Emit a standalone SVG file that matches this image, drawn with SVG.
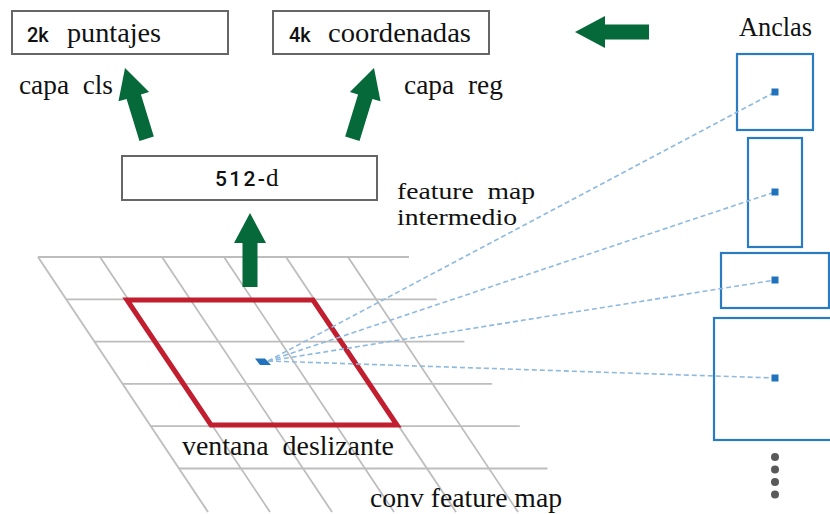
<svg xmlns="http://www.w3.org/2000/svg" xmlns:xlink="http://www.w3.org/1999/xlink" width="830" height="514" viewBox="0 0 830 514">
<style>
.box{fill:#fff;stroke:#666;stroke-width:2}
.serif{font-family:"Liberation Serif","Times New Roman",serif;font-size:27px;fill:#111;white-space:pre}
.sans{font-family:Roboto,"Liberation Sans",Arial,sans-serif;font-size:20px;font-weight:500;fill:#111}
.grid{stroke:#bdbdbd;stroke-width:1.8;fill:none}
.garrow{fill:#05693a}
.dash{stroke:#8fbadf;stroke-width:1.6;stroke-dasharray:5 3;fill:none}
.anchor{fill:none;stroke:#2a7bbf;stroke-width:2.2}
.center{fill:#1f72bb}
.dot{fill:#595959}
</style>
<defs>
<polygon id="arrowUp" points="0,0 16,30 7.5,30 7.5,74 -7.5,74 -7.5,30 -16,30"/>
</defs>
<g id="feature-map-grid" class="grid">
<line x1="38" y1="257" x2="409" y2="257"/>
<line x1="66.2" y1="299.3" x2="436.7" y2="299.3"/>
<line x1="94.4" y1="341.6" x2="464.4" y2="341.6"/>
<line x1="122.6" y1="383.9" x2="492.1" y2="383.9"/>
<line x1="150.8" y1="426.2" x2="519.8" y2="426.2"/>
<line x1="179" y1="468.5" x2="547.5" y2="468.5"/>
<line x1="38" y1="257" x2="208" y2="512"/>
<line x1="100" y1="257" x2="270" y2="512"/>
<line x1="162" y1="257" x2="332" y2="512"/>
<line x1="224" y1="257" x2="394" y2="512"/>
<line x1="286" y1="257" x2="456" y2="512"/>
<line x1="348" y1="257" x2="518" y2="512"/>
</g>
<g id="sliding-window">
<polygon points="127,300 313,300 397,425 211,425" fill="none" stroke="#c11f2f" stroke-width="5" stroke-linejoin="miter"/>
</g>
<g id="box-cls">
<rect class="box" x="12" y="11" width="216" height="43"/>
<text y="42"><tspan class="sans" x="27">2k</tspan><tspan class="serif" x="67" textLength="94" lengthAdjust="spacingAndGlyphs">puntajes</tspan></text>
</g>
<g id="box-reg">
<rect class="box" x="273" y="11" width="216" height="43"/>
<text y="42"><tspan class="sans" x="289">4k</tspan><tspan class="serif" x="328" textLength="143" lengthAdjust="spacingAndGlyphs">coordenadas</tspan></text>
</g>
<g id="box-512">
<rect class="box" x="122" y="156" width="255" height="44"/>
<text y="186"><tspan class="sans" x="215" style="font-size:21px" textLength="50" lengthAdjust="spacing">512-</tspan><tspan class="serif" x="266" style="font-size:25px">d</tspan></text>
</g>
<g id="labels">
<text class="serif" x="19" y="94" textLength="94" lengthAdjust="spacingAndGlyphs">capa&#160; cls</text>
<text class="serif" x="404" y="94" textLength="99" lengthAdjust="spacingAndGlyphs">capa&#160; reg</text>
<text class="serif" x="397" y="199" style="font-size:23px" textLength="138" lengthAdjust="spacingAndGlyphs">feature&#160; map</text>
<text class="serif" x="397" y="225" style="font-size:23px" textLength="120" lengthAdjust="spacingAndGlyphs">intermedio</text>
<text class="serif" x="739" y="36" textLength="73" lengthAdjust="spacingAndGlyphs">Anclas</text>
<text class="serif" x="182" y="455" style="font-size:28px" textLength="212" lengthAdjust="spacingAndGlyphs">ventana&#160; deslizante</text>
<text class="serif" x="370" y="507" style="font-size:28px" textLength="192" lengthAdjust="spacingAndGlyphs">conv feature map</text>
</g>
<g id="anchors">
<rect class="anchor" x="737" y="54" width="76" height="76"/>
<rect class="anchor" x="748" y="138" width="54" height="109"/>
<rect class="anchor" x="721" y="253" width="108" height="55"/>
<rect class="anchor" x="714" y="318" width="122" height="122"/>
<circle class="dot" cx="775" cy="457" r="4"/>
<circle class="dot" cx="775" cy="469.5" r="4"/>
<circle class="dot" cx="775" cy="482" r="4"/>
<circle class="dot" cx="775" cy="494.5" r="4"/>
</g>
<g id="connectors">
<use xlink:href="#arrowUp" class="garrow" transform="translate(125,68) rotate(-17)"/>
<use xlink:href="#arrowUp" class="garrow" transform="translate(374,68) rotate(17)"/>
<use xlink:href="#arrowUp" class="garrow" transform="translate(250,213)"/>
<use xlink:href="#arrowUp" class="garrow" transform="translate(575,32) rotate(-90)"/>
<line class="dash" x1="268" y1="361" x2="775" y2="92"/>
<line class="dash" x1="268" y1="361" x2="775" y2="192"/>
<line class="dash" x1="268" y1="361" x2="775" y2="280"/>
<line class="dash" x1="268" y1="361" x2="775" y2="378"/>
</g>
<g id="anchor-centers">
<polygon class="center" points="255,358.5 265,358.5 271,365 260,365"/>
<rect class="center" x="771.5" y="88.5" width="7" height="7"/>
<rect class="center" x="771.5" y="188.5" width="7" height="7"/>
<rect class="center" x="771.5" y="276.5" width="7" height="7"/>
<rect class="center" x="771.5" y="374.5" width="7" height="7"/>
</g>
</svg>
